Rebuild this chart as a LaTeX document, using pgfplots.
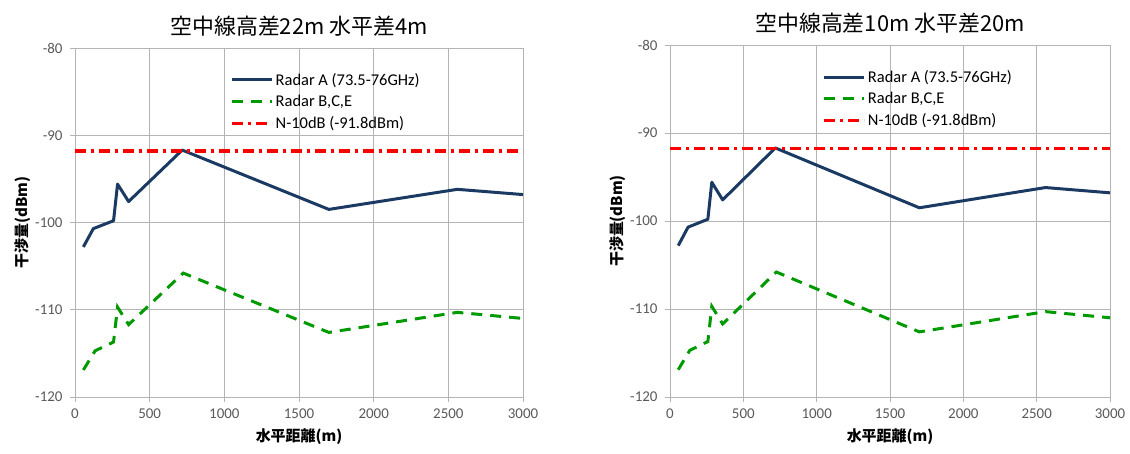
\documentclass[border=0pt]{standalone}
\usepackage{fontspec}
\setmainfont{Carlito}
\newfontfamily\cjk{Noto Sans CJK JP}
\usepackage{pgfplots}
\pgfplotsset{compat=1.18}
\definecolor{navy}{HTML}{1B3A63}
\definecolor{grn}{HTML}{009A00}
\definecolor{tickgray}{HTML}{595959}
\definecolor{gridgray}{HTML}{B4B4B4}
\pgfplotstableread{
x y
56 -102.8
123 -100.7
258 -99.8
285 -95.6
359 -97.6
718 -91.7
1700 -98.5
2560 -96.2
3000 -96.8
}\radarA
\pgfplotstableread{
x y
56 -116.9
135 -114.7
258 -113.7
285 -109.7
359 -111.7
725 -105.8
1700 -112.6
2560 -110.3
3000 -111.0
}\radarB
\pgfplotstableread{
x y
0 -91.8
3000 -91.8
}\noise
\pgfplotsset{
  mystyle/.style={
    scale only axis,
    xmin=0, xmax=3000, ymin=-120, ymax=-80,
    xtick={0,500,...,3000}, ytick={-120,-110,...,-80},
    axis lines=left,
    axis line style={gridgray, line width=0.8bp, -},
    grid=major,
    major grid style={gridgray, line width=0.8bp},
    tick style={gridgray, line width=0.8bp},
    tick align=outside,
    major tick length=5bp,
    /pgf/number format/assume math mode=true,
    /pgf/number format/1000 sep={},
    ticklabel style={font=\fontsize{15}{17}\selectfont, text=tickgray},
    xticklabel style={yshift=-3bp},
    yticklabel style={xshift=-4bp},
    xlabel={\cjk\bfseries 水平距離(m)},
    ylabel={\cjk\bfseries 干渉量(dBm)},
    xlabel style={font=\fontsize{15}{17}\selectfont, yshift=-4bp},
    ylabel style={font=\fontsize{15}{17}\selectfont, yshift=-2bp},
    title style={font=\cjk\fontsize{22}{26}\selectfont, yshift=2bp},
    legend style={draw=none, fill=none, font=\fontsize{16.5}{19}\selectfont,
      at={(0.34,0.94)}, anchor=north west, row sep=4.5bp},
    legend cell align=left,
    legend image code/.code={\draw[##1] (0bp,0bp) -- (40bp,0bp);},
  },
  lineA/.style={navy, line width=3bp, line join=round},
  lineB/.style={grn, line width=3bp, dash pattern=on 11bp off 8bp},
  lineN/.style={red, line width=3.2bp, dash pattern=on 11bp off 5bp on 3bp off 5bp},
}
\begin{document}
\begin{tikzpicture}[x=1bp,y=1bp]
\useasboundingbox (0,0) rectangle (1130,454);
\begin{axis}[mystyle, at={(75bp,57bp)}, anchor=south west, width=448bp, height=349bp,
  title={空中線高差22m 水平差4m}]
\addplot[lineA] table {\radarA};
\addlegendentry{Radar A (73.5-76GHz)}
\addplot[lineB] table {\radarB};
\addlegendentry{Radar B,C,E}
\addplot[lineN] table {\noise};
\addlegendentry{N-10dB (-91.8dBm)}
\end{axis}
\begin{axis}[mystyle, at={(670bp,57bp)}, anchor=south west, width=440bp, height=352bp,
  title={空中線高差10m 水平差20m}]
\addplot[lineA] table {\radarA};
\addlegendentry{Radar A (73.5-76GHz)}
\addplot[lineB] table {\radarB};
\addlegendentry{Radar B,C,E}
\addplot[lineN] table {\noise};
\addlegendentry{N-10dB (-91.8dBm)}
\end{axis}
\end{tikzpicture}
\end{document}
